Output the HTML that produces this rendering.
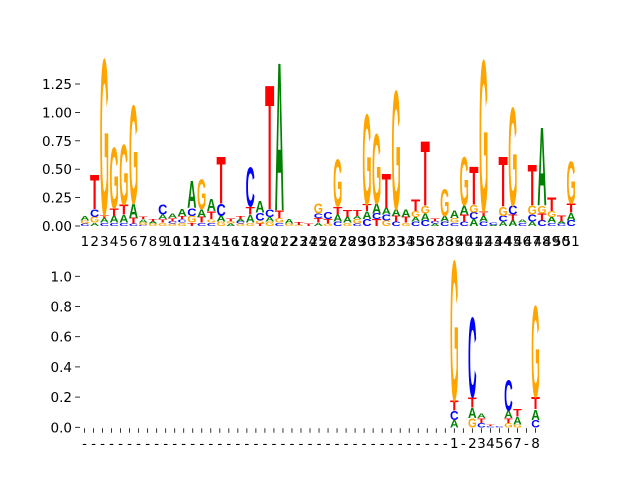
<!DOCTYPE html>
<html><head><meta charset="utf-8"><style>
html,body{margin:0;padding:0;background:#fff;}
svg{display:block;}
text{font-family:"DejaVu Sans","Liberation Sans",sans-serif;}
</style></head><body>
<svg id="chart" width="640" height="480" viewBox="0 0 640 480" xmlns="http://www.w3.org/2000/svg">
<g id="top"></g>
<g id="bot"></g>
</svg>
<script>
// Top panel: stacks per position (bottom -> top), [letter, height]
const topPositions = [1,2,3,4,5,6,7,8,9,10,11,12,13,14,15,16,17,18,19,20,21,22,23,24,25,26,27,28,29,30,31,32,33,34,35,36,37,38,39,40,41,42,43,44,45,46,47,48,49,50,51];
const topStacks = [
 [["C",.02],["G",.03],["A",.04]],
 [["A",.03],["G",.05],["C",.07],["T",.30]],
 [["C",.03],["A",.04],["T",.03],["G",1.38]],
 [["C",.03],["A",.06],["T",.07],["G",.54]],
 [["C",.03],["A",.07],["T",.09],["G",.53]],
 [["C",.02],["T",.05],["A",.13],["G",.87]],
 [["C",.01],["G",.02],["A",.03],["T",.02]],
 [["G",.02],["A",.02],["T",.02]],
 [["G",.03],["T",.03],["A",.04],["C",.09]],
 [["G",.02],["C",.02],["T",.03],["A",.04]],
 [["G",.03],["C",.03],["T",.03],["A",.06]],
 [["T",.03],["G",.06],["C",.07],["A",.24]],
 [["C",.03],["T",.05],["A",.07],["G",.26]],
 [["C",.03],["G",.03],["T",.07],["A",.11]],
 [["G",.04],["A",.05],["C",.11],["T",.42]],
 [["A",.02],["G",.02],["T",.03]],
 [["G",.02],["C",.02],["A",.02],["T",.03]],
 [["G",.03],["A",.07],["T",.07],["C",.35]],
 [["T",.02],["G",.03],["C",.07],["A",.10]],
 [["G",.04],["A",.04],["C",.07],["T",1.10]],
 [["C",.03],["G",.04],["T",.07],["A",1.31]],
 [["G",.02],["A",.04]],
 [["G",.01],["T",.03]],
 [["T",.02]],
 [["A",.03],["T",.04],["C",.04],["G",.09]],
 [["G",.02],["T",.04],["C",.06]],
 [["C",.04],["A",.06],["T",.07],["G",.42]],
 [["G",.03],["A",.05],["T",.06]],
 [["C",.02],["G",.04],["A",.03],["T",.05]],
 [["C",.06],["A",.07],["T",.06],["G",.80]],
 [["T",.06],["C",.05],["A",.09],["G",.62]],
 [["G",.05],["C",.05],["A",.06],["T",.30]],
 [["C",.04],["T",.05],["A",.06],["G",1.05]],
 [["G",.03],["T",.05],["A",.07]],
 [["C",.04],["A",.04],["G",.05],["T",.10]],
 [["C",.05],["A",.06],["G",.07],["T",.57]],
 [["A",.02],["C",.02],["T",.03]],
 [["C",.04],["A",.05],["G",.24]],
 [["C",.03],["G",.04],["A",.07]],
 [["C",.04],["T",.06],["A",.08],["G",.43]],
 [["A",.06],["C",.06],["G",.07],["T",.34]],
 [["C",.04],["A",.05],["T",.04],["G",1.34]],
 [["A",.01],["C",.02]],
 [["A",.04],["C",.05],["G",.08],["T",.44]],
 [["A",.05],["T",.05],["C",.08],["G",.87]],
 [["C",.03],["A",.03]],
 [["A",.04],["C",.06],["G",.08],["T",.36]],
 [["C",.05],["T",.06],["G",.07],["A",.69]],
 [["C",.03],["A",.05],["G",.05],["T",.12]],
 [["C",.02],["A",.02],["T",.05]],
 [["C",.05],["A",.07],["T",.08],["G",.37]]
];
const topYTicks = [0,0.25,0.5,0.75,1.0,1.25];
const topYTickLabels = ["0.00","0.25","0.50","0.75","1.00","1.25"];
const topXTickLabels = topPositions.map(String);

// Bottom panel
const botPositions = topPositions;
const botStacks = {
 42: [["A",.05],["C",.06],["T",.07],["G",.93]],
 44: [["G",.06],["A",.07],["T",.07],["C",.53]],
 45: [["C",.03],["T",.03],["A",.03]],
 46: [["C",.01],["T",.01]],
 47: [["C",.006]],
 48: [["G",.03],["T",.03],["A",.05],["C",.20]],
 49: [["G",.02],["A",.05],["T",.05]],
 51: [["C",.05],["A",.07],["T",.08],["G",.61]]
};
const botYTicks = [0,0.2,0.4,0.6,0.8,1.0];
const botYTickLabels = ["0.0","0.2","0.4","0.6","0.8","1.0"];
const botXTickLabels = {42:"1",44:"2",45:"3",46:"4",47:"5",48:"6",49:"7",51:"8"};

const colors = {A:"#008000",C:"#0000ff",G:"#ffa500",T:"#ff0000"};
const NS = "http://www.w3.org/2000/svg";
function mk(tag, attrs, parent){const e=document.createElementNS(NS,tag);for(const k in attrs)e.setAttribute(k,attrs[k]);parent.appendChild(e);return e;}

// axis functions
const topX = p => 84.9 + 9.725*(p-1);
const topY = v => 226 - v*113.6;
const botX = p => 84.5 + 9.02*(p-1);
const botY = v => 427.3 - v*151;

function drawLetter(g, letter, xc, yb, h, w, pos){
  if (h*1 < 0.3) return;
  const fs = 100;
  const t = mk("text", {x:0, y:0, "font-size":fs, "font-weight":"bold",
    "text-anchor":"start", textLength: w, lengthAdjust:"spacingAndGlyphs",
    fill: colors[letter],
    style:'font-family:"Liberation Sans",sans-serif',
    transform:`translate(${(xc-w/2).toFixed(2)},${yb.toFixed(2)}) scale(1,${(h/(0.70*fs)).toFixed(5)})`}, g);
  t.textContent = letter;
  
  
}

function drawPanel(g, positions, stackFor, X, Y, yTicks, yLabels, xLabelFor, w, xTickMarks, xLabelY){
  positions.forEach(p=>{
    const st = stackFor(p); if(!st) return;
    let cum = 0;
    const sg = mk("g", {}, g);
    
    
    st.forEach(([L,v])=>{
      const yb = Y(cum), yt = Y(cum+v);
      drawLetter(sg, L, X(p), yb, yb-yt, w, p);
      cum += v;
    });
  });
  yTicks.forEach((v,i)=>{
    const l = mk("line",{x1:75.1,x2:80,y1:Y(v),y2:Y(v),stroke:"#000","stroke-width":0.8},g);
    
    
    const t = mk("text",{x:72,y:Y(v)+5,"font-size":13.5,"text-anchor":"end",fill:"#000"},g);
    t.textContent = yLabels[i];
    
    
  });
  positions.forEach(p=>{
    if (xTickMarks){
      const l = mk("line",{x1:X(p),x2:X(p),y1:Y(0)+1,y2:Y(0)+5.5,stroke:"#000","stroke-width":0.8},g);
      
      
    }
    const t = mk("text",{x:X(p),y:xLabelY,"font-size":13.5,"text-anchor":"middle",fill:"#000"},g);
    t.textContent = xLabelFor(p);
    
    
  });
}

drawPanel(document.getElementById("top"), topPositions, p=>topStacks[p-1], topX, topY,
  topYTicks, topYTickLabels, p=>topXTickLabels[p-1], 9.2, false, 246);
drawPanel(document.getElementById("bot"), botPositions, p=>botStacks[p], botX, botY,
  botYTicks, botYTickLabels, p=>botXTickLabels[p]||"-", 8.6, true, 448);
</script>
</body></html>
